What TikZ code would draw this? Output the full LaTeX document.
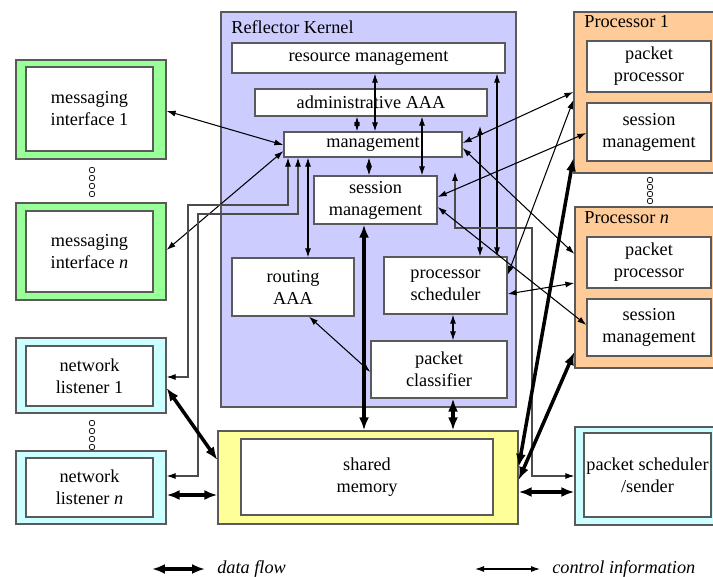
\documentclass[tikz,border=0pt]{standalone}
\usepackage{fontspec}
\setmainfont{Liberation Serif}
\usetikzlibrary{arrows.meta}
\definecolor{kern}{RGB}{204,204,255}
\definecolor{grn}{RGB}{153,255,153}
\definecolor{org}{RGB}{255,204,153}
\definecolor{cyn}{RGB}{204,255,255}
\definecolor{ylw}{RGB}{255,255,153}
\definecolor{bord}{RGB}{90,90,90}
\newcommand\mybox[7]{%
  \pgfmathsetmacro\mybw{(#4-#2)*0.02}%
  \pgfmathsetmacro\mybh{(#5-#3)*0.02}%
  \node[#6, minimum width=\mybw cm, minimum height=\mybh cm] (#1) at ({(#2+#4)/2},{(#3+#5)/2}) {#7};}
\begin{document}
\begin{tikzpicture}[x=0.02cm,y=-0.02cm,
  font=\fontsize{10.4}{12.5}\selectfont,
  box/.style={draw=bord, line width=0.7pt, fill=white, inner sep=0pt, align=center},
  outerbox/.style={draw=bord, line width=0.7pt, inner sep=0pt},
  ctl/.style={line width=0.6pt, {Latex[length=1.8mm,width=1.2mm]}-{Latex[length=1.8mm,width=1.2mm]}},
  dat/.style={line width=2pt, {Latex[length=2.6mm,width=2mm]}-{Latex[length=2.6mm,width=2mm]}},
  wire/.style={draw=black!70, line width=0.6pt, {Latex[length=1.8mm,width=1.2mm,color=black]}-{Latex[length=1.8mm,width=1.2mm,color=black]}},
  dotc/.style={circle, draw=black, line width=0.4pt, fill=white, inner sep=0pt, minimum size=3.2pt},
]
\useasboundingbox (0,0) rectangle (713,577);

% Reflector kernel
\mybox{K}{221}{12}{516}{407}{outerbox, fill=kern}{}
\node[anchor=west, inner sep=0pt] (Kt) at (231,27) {Reflector Kernel};
\mybox{rm}{232}{43}{505}{73}{box}{resource management}
\mybox{adm}{255}{89}{487}{116}{box}{administrative AAA}
\mybox{mgmt}{284}{132}{462}{157}{box}{management}
\mybox{ksm}{314}{176}{437}{224}{box}{session\\management}
\mybox{raaa}{232}{258}{354}{316}{box}{routing\\AAA}
\mybox{psch}{384}{257}{507}{314}{box}{processor\\scheduler}
\mybox{pcls}{371}{341}{507}{398}{box}{packet\\classifier}

% messaging interfaces
\mybox{mi1o}{16}{60}{166}{159}{outerbox, fill=grn}{}
\mybox{mi1}{26}{67}{153}{151}{box}{messaging\\interface 1}
\mybox{mino}{16}{203}{166}{300}{outerbox, fill=grn}{}
\mybox{min}{26}{211}{153}{292}{box}{messaging\\interface \textit{n}}

% network listeners
\mybox{nl1o}{16}{338}{166}{413}{outerbox, fill=cyn}{}
\mybox{nl1}{26}{346}{153}{406}{box}{network\\listener 1}
\mybox{nlno}{16}{451}{166}{524}{outerbox, fill=cyn}{}
\mybox{nln}{26}{458}{153}{517}{box}{network\\listener \textit{n}}

% shared memory
\mybox{smo}{218}{431}{518}{524}{outerbox, fill=ylw}{}
\mybox{sm}{241}{439}{493}{515}{box}{shared\\memory}

% processors
\mybox{P1}{574}{12}{716}{173}{outerbox, fill=org}{}
\node[anchor=west, inner sep=0pt] (P1t) at (584,22) {Processor 1};
\mybox{pp1}{587}{41}{711}{92}{box}{packet\\processor}
\mybox{psm1}{587}{103}{711}{161}{box}{session\\management}
\mybox{Pn}{575}{207}{716}{368}{outerbox, fill=org}{}
\node[anchor=west, inner sep=0pt] (Pnt) at (584,218) {Processor \textit{n}};
\mybox{ppn}{587}{237}{711}{288}{box}{packet\\processor}
\mybox{psmn}{587}{299}{711}{356}{box}{session\\management}

% packet scheduler
\mybox{pso}{575}{427}{716}{525}{outerbox, fill=cyn}{}
\mybox{ps}{584}{433}{711}{517}{box}{packet scheduler\\/sender}

% dots
\foreach \i/\y in {1/170,2/178,3/186,4/194}{\node[dotc] (dm\i) at (92,\y) {};}
\foreach \i/\y in {1/423,2/431,3/439,4/447}{\node[dotc] (dn\i) at (92,\y) {};}
\foreach \i/\y in {1/180,2/187,3/194,4/201}{\node[dotc] (dp\i) at (650,\y) {};}

% control connectors inside kernel
\draw[ctl] (rm.south -| 375,0) -- (mgmt.north -| 375,0);
\draw[ctl] (adm.south -| 357,0) -- (mgmt.north -| 357,0);
\draw[ctl] (adm.south -| 422,0) -- (ksm.north -| 422,0);
\draw[ctl] (mgmt.south -| 369,0) -- (ksm.north -| 369,0);
\draw[ctl] (mgmt.south -| 308,0) -- (raaa.north -| 308,0);
\draw[ctl] (raaa.south -| 309,0) -- (pcls.west |- 0,372);
\draw[ctl] (psch.south -| 453,0) -- (pcls.north -| 453,0);
\coordinate (a480) at (480,126);
\draw[ctl] (a480) -- (psch.north -| 480,0);
\draw[ctl] (rm.south -| 497,0) -- (psch.north -| 497,0);

% messaging interfaces to management
\draw[ctl] (mi1o.east |- 0,111) -- (mgmt.west |- 0,145);
\draw[ctl] (mino.east |- 0,250) -- (mgmt.west |- 0,151);

% routed wires
\draw[wire] (mgmt.south -| 288,0) -- (288,205) -- (188,205) -- (188,377) -- (nl1o.east |- 0,377);
\draw[wire] (mgmt.south -| 298,0) -- (298,214) -- (198,214) -- (198,476) -- (nlno.east |- 0,476);
\coordinate (a455) at (455,172);
\draw[wire] (a455) -- (455,228) -- (532,228) -- (532,476) -- (pso.west |- 0,476);

% kernel to processors
\draw[ctl] (mgmt.east |- 0,143) -- (P1.west |- 0,92);
\draw[ctl] (ksm.east |- 0,197) -- (psm1.west |- 0,133);
\draw[ctl] (mgmt.east |- 0,148) -- (Pn.west |- 0,254);
\draw[ctl] (ksm.east |- 0,207) -- (psmn.west |- 0,325);
\draw[ctl] (psch.east |- 0,275) -- (P1.west |- 0,100);
\draw[ctl] (psch.east |- 0,294) -- (Pn.west |- 0,283);

% data flow
\draw[dat] (ksm.south -| 364,0) -- (smo.north -| 364,0);
\draw[dat] (pcls.south -| 453,0) -- (smo.north -| 453,0);
\draw[dat] (nl1o.east |- 0,388) -- (smo.west |- 0,460);
\draw[dat] (nlno.east |- 0,495) -- (smo.west |- 0,495);
\draw[dat] (smo.east |- 0,492) -- (pso.west |- 0,492);
\draw[dat] (smo.east |- 0,480) -- (Pn.west |- 0,352);
\draw[dat] (smo.east |- 0,467) -- (P1.west |- 0,158);

% legend
\coordinate (la) at (152,569);
\coordinate (lb) at (205,569);
\draw[dat] (la) -- (lb);
\node[anchor=west, inner sep=0pt, font=\fontsize{10.4}{12.5}\selectfont\itshape] (ldf) at (217,569) {data flow};
\coordinate (lc) at (475,569);
\coordinate (ld) at (540,569);
\draw[ctl] (lc) -- (ld);
\node[anchor=west, inner sep=0pt, font=\fontsize{10.4}{12.5}\selectfont\itshape] (lci) at (552,569) {control information};
\end{tikzpicture}
\end{document}
